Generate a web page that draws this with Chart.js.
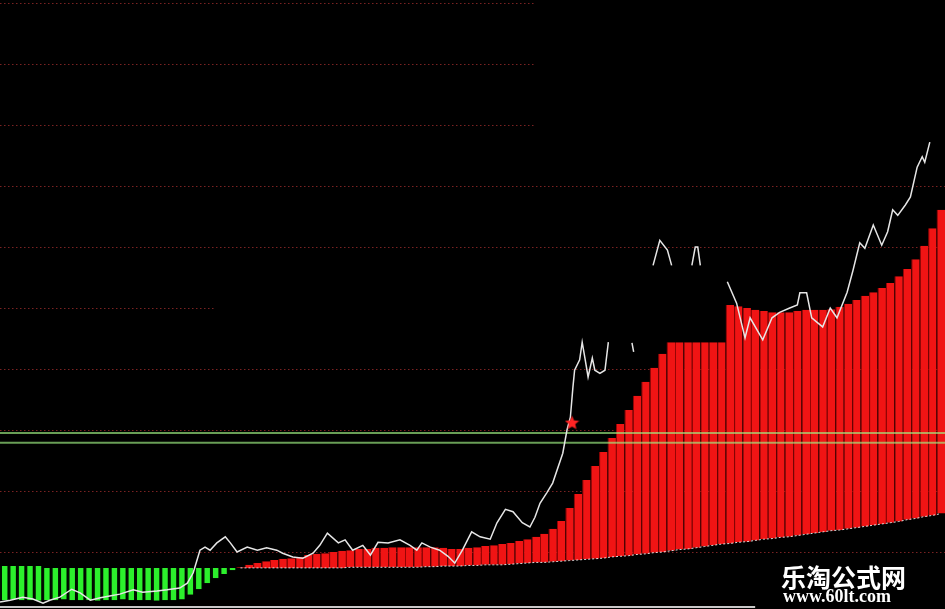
<!DOCTYPE html>
<html>
<head>
<meta charset="utf-8">
<script src="https://cdn.jsdelivr.net/npm/chart.js@4/dist/chart.umd.min.js"></script>
<style>
  html, body { margin: 0; padding: 0; background: #000; }
  #wrap { position: relative; width: 945px; height: 609px; background: #000; overflow: hidden; }
  .mark { position: absolute; color: #fff; white-space: nowrap; line-height: 1; }
  #brand { left: 781px; top: 558px; font: bold 25px "Noto Sans CJK SC", sans-serif; }
  #site { left: 783px; top: 586px; font: bold 18px "Liberation Serif", serif; }
</style>
</head>
<body>
<div id="wrap">
  <canvas id="chart" width="945" height="609"></canvas>
  <div class="mark" id="brand">乐淘公式网</div>
  <div class="mark" id="site">www.60lt.com</div>
</div>
<script>
// moving base line (bottom of the bars, dotted white under the red part)
const ma = [
  7.7, 7.7, 7.7, 7.7, 7.7, 7.4, 7.4, 7.4, 7.4, 7.4,
  7.4, 7.4, 7.4, 7.4, 7.4, 7.4, 7.4, 7.4, 7.4, 7.4,
  7.4, 7.4, 7.4, 7.4, 7.4, 7.4, 7.4, 7.4, 7.4, 7.4,
  7.4, 7.4, 7.4, 7.4, 7.4, 7.4, 7.4, 7.4, 7.4, 7.4,
  7.4, 7.5, 7.5, 7.5, 7.5, 7.5, 7.5, 7.5, 7.5, 7.5,
  7.6, 7.6, 7.7, 7.7, 7.7, 7.8, 7.8, 7.9, 7.9, 7.9,
  8.0, 8.1, 8.2, 8.3, 8.3, 8.4, 8.5, 8.6, 8.7, 8.8,
  8.9, 9.0, 9.2, 9.3, 9.4, 9.6, 9.7, 9.9, 10.0, 10.2,
  10.4, 10.5, 10.7, 10.9, 11.1, 11.3, 11.4, 11.6, 11.7, 11.9,
  12.1, 12.2, 12.4, 12.5, 12.7, 12.9, 13.1, 13.3, 13.5, 13.6,
  13.8, 14.0, 14.2, 14.4, 14.6, 14.8, 15.0, 15.3, 15.5, 15.8,
  16.0, 16.3
];
// signal value (other end of each bar)
const sig = [
  2.1, 2.2, 2.1, 2.1, 2.0, 2.1, 2.1, 2.2, 2.1, 2.1,
  2.1, 2.0, 2.1, 2.1, 2.2, 2.1, 2.1, 2.1, 2.0, 2.1,
  2.1, 2.2, 3.0, 3.9, 4.9, 5.7, 6.4, 7.0, 7.5, 7.9,
  8.2, 8.5, 8.7, 8.9, 9.0, 9.2, 9.5, 9.7, 9.8, 10.0,
  10.2, 10.3, 10.5, 10.5, 10.7, 10.7, 10.8, 10.8, 10.8, 10.8,
  10.8, 10.8, 10.7, 10.5, 10.5, 10.7, 10.8, 11.0, 11.1, 11.3,
  11.5, 11.8, 12.1, 12.5, 13.0, 13.8, 15.1, 17.2, 19.5, 21.8,
  24.1, 26.4, 28.7, 31.0, 33.3, 35.6, 37.9, 40.2, 42.5, 44.4,
  44.4, 44.4, 44.4, 44.4, 44.4, 44.4, 50.5, 50.3, 50.0, 49.7,
  49.5, 49.3, 49.3, 49.3, 49.5, 49.7, 49.7, 49.7, 49.8, 50.2,
  50.7, 51.3, 52.0, 52.6, 53.3, 54.1, 55.2, 56.4, 58.0, 60.2,
  63.1, 66.1
];
// price line (x in bar index units), null = gap
const priceX = [
  -0.5, 0.7, 2.2, 3.4, 4.6, 5.4, 6.6, 8.0, 9.0, 10.2,
  11.4, 12.5, 13.7, 15.3, 16.4, 18.1, 19.3, 20.8, 21.7, 22.4,
  23.2, 23.8, 24.4, 25.2, 26.2, 26.8, 27.6, 28.8, 30.0, 31.1,
  32.3, 33.0, 34.2, 35.4, 36.6, 37.4, 38.3, 39.6, 40.4, 41.3,
  42.5, 43.4, 44.3, 45.5, 46.9, 48.1, 48.9, 49.5, 50.5, 51.6,
  52.6, 53.4, 54.3, 55.4, 56.4, 57.6, 58.4, 59.4, 60.3, 61.4,
  62.3, 62.9, 63.5, 64.3, 65.0, 66.2, 66.7, 67.1, 67.4, 67.6,
  68.2, 68.5, 68.8, 69.2, 69.7, 70.0, 70.6, 71.2, 71.6,
  72.0, 74.4, 74.6,
  75.0, 76.9, 77.7, 78.6, 79.1,
  80.0, 81.5, 81.9, 82.2, 82.5,
  84.0, 85.7, 86.8, 87.8, 88.4, 89.9, 91.0, 91.9, 93.1, 94.0, 94.3,
  95.1, 95.7, 97.0, 97.9, 98.7, 99.9, 100.6, 101.4, 102.0, 103.0,
  104.0, 104.7, 105.3, 105.9, 106.8, 107.4, 108.2, 108.8, 109.1, 109.7
];
const priceY = [
  1.8, 2.1, 2.6, 2.3, 1.6, 2.1, 2.6, 3.9, 3.3, 2.1,
  2.5, 2.8, 3.1, 3.8, 3.4, 3.6, 3.8, 4.1, 4.9, 6.6,
  10.3, 10.8, 10.3, 11.5, 12.5, 11.5, 10.0, 10.8, 10.3, 10.7,
  10.3, 9.8, 9.2, 9.0, 9.8, 11.1, 13.1, 11.5, 12.0, 10.3,
  11.1, 9.5, 11.6, 11.5, 12.0, 11.1, 10.3, 11.5, 10.8, 10.3,
  9.3, 8.2, 10.3, 13.3, 12.5, 12.1, 14.8, 17.0, 16.6, 14.8,
  14.1, 15.7, 18.0, 19.7, 21.3, 26.2, 30.0, 32.1, 37.0, 39.8,
  41.5, 44.4, 42.0, 38.7, 41.8, 39.8, 39.3, 39.8, 44.4,
  null, 44.3, 42.8,
  null, 57.0, 61.1, 59.5, 57.0,
  null, 57.0, 60.0, 60.0, 57.0,
  null, 54.3, 50.8, 45.1, 48.4, 44.8, 48.4, 49.3, 50.0, 50.5, 52.5,
  52.5, 48.4, 46.9, 50.0, 48.4, 52.6, 56.2, 60.7, 59.8, 63.6,
  60.3, 62.5, 66.1, 65.2, 66.9, 68.2, 73.1, 74.8, 73.9, 77.2
];
// buy signal star
const signalX = [67.3];
const signalY = [31.3];
// horizontal green levels
const levels = [29.5, 27.9];
// dotted grid values
const gridValues = [10, 20, 30, 40, 50, 60, 70, 80, 90, 100];

const isUp = sig.map((s, i) => s >= ma[i]);
const bars = sig.map((s, i) => ({ x: i, y: [ma[i], s] }));
const baseLine = ma.map((v, i) => ({ x: i, y: isUp[i] ? v : null }));

function starImage(size, color) {
  const c = document.createElement('canvas');
  c.width = c.height = size;
  const g = c.getContext('2d');
  const r = size / 2, ri = r * 0.45;
  g.beginPath();
  for (let k = 0; k < 10; k++) {
    const rad = k % 2 ? ri : r;
    const a = -Math.PI / 2 + k * Math.PI / 5;
    g.lineTo(r + rad * Math.cos(a), r + 1 + rad * Math.sin(a));
  }
  g.closePath();
  g.fillStyle = color;
  g.fill();
  return c;
}

// partial-width rows like in the original screenshot
const gridStop = { 100: 62.9, 90: 62.9, 80: 62.9, 50: 25 };

const gridLines = {
  id: 'gridLines',
  beforeDatasetsDraw(chart) {
    const { ctx, chartArea, scales } = chart;
    ctx.save();
    ctx.strokeStyle = '#7a2222';
    ctx.lineWidth = 1;
    ctx.setLineDash([1.5, 2.5]);
    gridValues.forEach(v => {
      const y = Math.round(scales.y.getPixelForValue(v)) + 0.5;
      const end = gridStop[v] !== undefined ? scales.x.getPixelForValue(gridStop[v]) : chartArea.right;
      ctx.beginPath();
      ctx.moveTo(chartArea.left, y);
      ctx.lineTo(end, y);
      ctx.stroke();
    });
    ctx.restore();
  },
  afterDraw(chart) {
    // light frame edge along the bottom
    const { ctx, scales } = chart;
    ctx.save();
    ctx.strokeStyle = '#c8c8c8';
    ctx.lineWidth = 2;
    const y = scales.y.getPixelForValue(0.98);
    ctx.beginPath();
    ctx.moveTo(scales.x.getPixelForValue(-0.5), y);
    ctx.lineTo(scales.x.getPixelForValue(89), y);
    ctx.stroke();
    ctx.restore();
  }
};

const datasets = [
  {
    type: 'scatter',
    data: signalX.map((x, i) => ({ x: x, y: signalY[i] })),
    pointStyle: starImage(15, '#ff2424'),
    order: 0
  },
  {
    type: 'line',
    data: priceX.map((x, i) => ({ x: x, y: priceY[i] })),
    borderColor: '#e6e6e6',
    borderWidth: 1.5,
    pointRadius: 0,
    tension: 0,
    spanGaps: false,
    order: 1
  }
];
levels.forEach(lv => {
  datasets.push({
    type: 'line',
    data: [{ x: -0.5, y: lv }, { x: 111.5, y: lv }],
    borderColor: 'rgba(160, 240, 130, 0.66)',
    borderWidth: 2,
    pointRadius: 0,
    order: 2
  });
});
datasets.push({
  type: 'line',
  data: baseLine,
  borderColor: '#dcdcdc',
  borderWidth: 1,
  borderDash: [2, 2],
  pointRadius: 0,
  order: 3
});
// green part: separate bars with dark gaps
datasets.push({
  type: 'bar',
  data: bars,
  backgroundColor: isUp.map(u => (u ? '#f01414' : '#2cf02c')),
  borderColor: isUp.map(u => (u ? '#980404' : '#010d01')),
  borderWidth: isUp.map(u => (u ? { left: 1, right: 0, top: 0, bottom: 0 } : { left: 2, right: 1, top: 0, bottom: 0 })),
  borderSkipped: false,
  inflateAmount: 0,
  barPercentage: 1,
  categoryPercentage: 1,
  grouped: false,
  order: 4
});

new Chart(document.getElementById('chart'), {
  type: 'bar',
  data: { datasets: datasets },
  options: {
    responsive: false,
    devicePixelRatio: 1,
    animation: false,
    events: [],
    layout: { padding: 0, autoPadding: false },
    plugins: { legend: { display: false }, tooltip: { enabled: false } },
    scales: {
      x: { type: 'linear', display: false, offset: false, grid: { offset: false }, min: -0.5, max: 111.5 },
      y: { type: 'linear', display: false, min: 0.66, max: 100.5 }
    }
  },
  plugins: [gridLines]
});
</script>
</body>
</html>
